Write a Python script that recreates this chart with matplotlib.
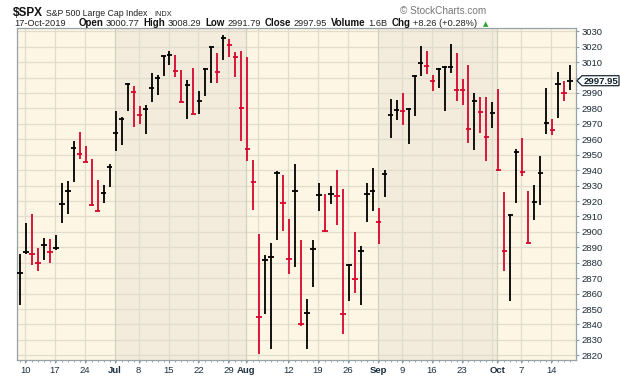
import numpy as np
import pandas as pd
import matplotlib
matplotlib.use("Agg")
import matplotlib.pyplot as plt
from matplotlib.patches import Polygon

plt.rcParams["font.family"] = ["Liberation Sans", "DejaVu Sans"]

# --- daily bars, $SPX 7-Jun-2019 .. 17-Oct-2019 ---
dates = pd.bdate_range("2019-06-07", "2019-10-17")
dates = dates[~dates.isin(pd.to_datetime(["2019-07-04", "2019-09-02"]))]

high = [2885.7, 2905.8, 2911.6, 2889.6, 2896.1, 2895.4, 2898.0, 2931.7, 2932.8, 2958.7,
        2964.6, 2955.5, 2947.3, 2933.5, 2930.2, 2944.3, 2978.4, 2974.3, 2996.3, 2994.4,
        2981.4, 2982.1, 3003.0, 3001.9, 3013.8, 3017.0, 3014.9, 3005.2, 2998.7, 3006.2,
        2991.1, 3006.2, 3019.6, 3016.0, 3027.4, 3025.0, 3016.6, 3017.0, 3013.2, 2946.4,
        2898.7, 2884.9, 2892.9, 2939.3, 2937.1, 2908.4, 2944.0, 2894.8, 2856.6, 2894.6,
        2931.7, 2924.6, 2929.6, 2939.9, 2927.8, 2879.5, 2900.0, 2890.7, 2931.7, 2941.4,
        2915.5, 2939.9, 2986.2, 2985.7, 2990.0, 2980.3, 3001.5, 3020.3, 3017.0, 3001.9,
        3006.2, 3007.3, 3021.8, 3016.0, 2999.1, 3008.0, 2990.0, 2987.5, 2987.5, 2984.2,
        2992.6, 2925.9, 2911.9, 2954.0, 2960.9, 2926.3, 2930.2, 2949.0, 2993.3, 2973.4,
        3003.7, 2997.6, 3008.3]
low = [2852.5, 2885.7, 2878.8, 2874.9, 2882.1, 2879.9, 2888.5, 2906.0, 2911.9, 2932.2,
       2947.5, 2945.1, 2916.6, 2913.5, 2919.0, 2929.4, 2952.7, 2956.6, 2978.2, 2968.0,
       2970.2, 2963.5, 2984.4, 2989.0, 3001.3, 3008.4, 3000.4, 2984.2, 2973.4, 2976.4,
       2976.4, 2987.9, 2996.5, 2996.5, 3011.6, 3013.4, 3000.4, 2958.7, 2945.8, 2914.4,
       2821.1, 2847.1, 2824.4, 2895.0, 2900.8, 2873.0, 2877.5, 2838.9, 2824.4, 2864.6,
       2913.8, 2900.0, 2918.3, 2904.7, 2834.1, 2855.5, 2860.5, 2852.9, 2906.2, 2913.8,
       2892.4, 2922.4, 2960.9, 2972.8, 2969.5, 2957.2, 2975.4, 3000.8, 3002.6, 2991.1,
       2993.3, 2978.6, 3003.0, 2984.6, 2982.5, 2957.6, 2953.3, 2964.1, 2946.2, 2967.4,
       2939.3, 2874.9, 2855.5, 2919.0, 2936.5, 2892.5, 2908.0, 2917.7, 2963.5, 2963.0,
       2973.8, 2985.1, 2991.8]
close = [2873.34, 2886.73, 2885.72, 2879.84, 2891.64, 2886.98, 2889.67, 2917.75, 2926.46, 2954.18,
         2950.46, 2945.35, 2917.38, 2913.78, 2924.92, 2941.76, 2964.33, 2973.01, 2995.82, 2990.41,
         2975.95, 2979.63, 2993.07, 2999.91, 3013.77, 3014.30, 3004.04, 2984.42, 2995.11, 2976.61,
         2985.03, 3005.47, 3019.56, 3003.67, 3025.86, 3020.97, 3013.18, 2980.38, 2953.56, 2932.05,
         2844.74, 2881.77, 2883.98, 2938.09, 2918.65, 2882.70, 2926.32, 2840.60, 2847.60, 2888.68,
         2923.65, 2900.51, 2924.43, 2922.95, 2847.11, 2878.38, 2869.16, 2887.94, 2924.58, 2926.46,
         2906.27, 2937.78, 2976.00, 2978.71, 2978.43, 2979.39, 3000.93, 3009.57, 3007.39, 2997.96,
         3005.70, 3006.73, 3006.79, 2992.07, 2991.78, 2966.60, 2984.87, 2977.62, 2961.79, 2976.74,
         2940.25, 2887.61, 2910.63, 2952.01, 2938.79, 2893.06, 2919.40, 2938.13, 2970.27, 2966.15,
         2995.68, 2989.69, 2997.95]

YTICKS = list(range(2820, 3031, 10))
LAST = "2997.95"
HEADER_LABELS = ["Open", "High", "Low", "Close", "Volume", "Chg"]
HEADER_VALUES = ["3000.77", "3008.29", "2991.79", "2997.95", "1.6B", "+8.26 (+0.28%)"]

W, H = 620, 376
RED, BLK = "#d6062e", "#000000"
LIGHT, DARK = "#fdf6e4", "#f3ecdc"
GRID = "#e1dccd"

x = np.arange(len(close))
up = np.r_[True, np.diff(close) >= 0]
colors = [BLK if u else RED for u in up]

fig = plt.figure(figsize=(W / 100, H / 100), dpi=100)
ax = fig.add_axes([16.7 / W, 1 - 360 / H, (576 - 16.7) / W, (360 - 28.3) / H])
ax.set_xlim(-0.55, 92.98)
ax.set_ylim(2817.0, 3031.9)

# month shading and week/month grid lines
month_start = [i for i in x if i == 0 or dates[i].month != dates[i - 1].month]
week_start = [i for i in x if i > 0 and dates[i].weekday() < dates[i - 1].weekday()]
edges = [-0.55] + [i - 0.15 for i in month_start[1:]] + [92.98]
for k in range(len(edges) - 1):
    ax.axvspan(edges[k], edges[k + 1], color=LIGHT if k % 2 == 0 else DARK, lw=0, zorder=0)
for v in YTICKS:
    ax.axhline(v, color=GRID, lw=0.9, zorder=1)
for i in sorted(set(week_start) | set(month_start[1:])):
    ax.axvline(i - 0.15, color="#d3cfc1" if i in month_start else GRID, lw=0.9, zorder=1)

# bars: high-low line with close tick
ax.vlines(x, low, high, colors=colors, lw=1.3, zorder=3)
ax.hlines(close, x - 0.45, x + 0.45, colors=colors, lw=1.3, zorder=3)

# x labels: month names at month starts, day numbers at week starts
ticks, labels = [], []
for i in sorted(set(week_start) | set(month_start[1:])):
    if i in month_start:
        ticks.append(i - 0.15); labels.append(dates[i].strftime("%b"))
    elif not any(0 < abs(m - i) < 3 for m in month_start[1:]):
        ticks.append(i - 0.15); labels.append(str(dates[i].day))
ax.set_xticks(ticks)
ax.set_xticklabels(labels)
for t in ax.get_xticklabels():
    if not t.get_text().isdigit():
        t.set_fontweight("bold")
ax.set_xticks(x, minor=True)
ax.tick_params(axis="x", which="major", length=2.5, color="#8e9aa0", labelsize=6.8,
               labelcolor="#1c3040", pad=2)
ax.tick_params(axis="x", which="minor", length=1.5, color="#8e9aa0")

ax.yaxis.tick_right()
ax.set_yticks(YTICKS)
# the last-price marker covers the 3000 label
ax.set_yticklabels(["" if v == 3000 else str(v) for v in YTICKS])
ax.tick_params(axis="y", length=2.5, color="#8e9aa0", labelsize=6.8, labelcolor="#1c2a36", pad=1.5)
for s in ax.spines.values():
    s.set_color("#95a3a8")
    s.set_linewidth(0.9)

# last price marker on the right axis
yc = ax.transData.transform((0, close[-1]))[1]
ptsx = np.array([577, 582, 619, 619, 582]) / W
ptsy = (np.array([yc, yc + 5, yc + 5, yc - 5, yc - 5])) / H
fig.patches.append(Polygon(np.c_[ptsx, ptsy], closed=True, facecolor="white",
                           edgecolor="#1c2a36", lw=0.9, transform=fig.transFigure, zorder=5))
fig.text(600.5 / W, (yc - 0.3) / H, LAST, ha="center", va="center", fontsize=6.8,
         fontweight="bold", color="#0d1e2a", zorder=6)

# header: pieces laid out left to right, scaled together to end where the original does
renderer = fig.canvas.get_renderer()


def header_line(x0, x_end, py, pieces):
    """pieces: (text, fontsize, gap_after, kwargs)."""
    texts = [fig.text(0, 1 - py / H, s, va="baseline", fontsize=fs, **kw)
             for s, fs, gap, kw in pieces]
    total = sum(t.get_window_extent(renderer).width + gap
                for t, (s, fs, gap, kw) in zip(texts, pieces)) - pieces[-1][2]
    scale = min(1.0, (x_end - x0) / total)
    cur = x0
    for t, (s, fs, gap, kw) in zip(texts, pieces):
        t.set_fontsize(fs * scale)
        t.set_x(cur / W)
        cur += t.get_window_extent(renderer).width + gap * scale
    return cur


B = dict(fontweight="bold", color="#111")
N = dict(color="#222")
header_line(13.3, 172, 15.5, [("$SPX", 10.5, 3.5, B),
                              ("S&P 500 Large Cap Index", 7.8, 8, N),
                              ("INDX", 6.6, 0, N)])
fig.text(486 / W, 1 - 14.5 / H, "\u00a9 StockCharts.com", va="baseline", ha="right",
         fontsize=7.2, color="#777")
line2 = [("17-Oct-2019", 7.2, 14, N)]
for lab, val in zip(HEADER_LABELS, HEADER_VALUES):
    line2 += [(lab, 7.6, 2.5, B), (val, 7.2, 4.5, N)]
end = header_line(14, 476, 26.5, line2)
fig.text((end + 2) / W, 1 - 26.5 / H, "\u25b2", va="baseline", fontsize=5, color="#2ca02c",
         family="DejaVu Sans")

fig.savefig("out.png", dpi=100)
